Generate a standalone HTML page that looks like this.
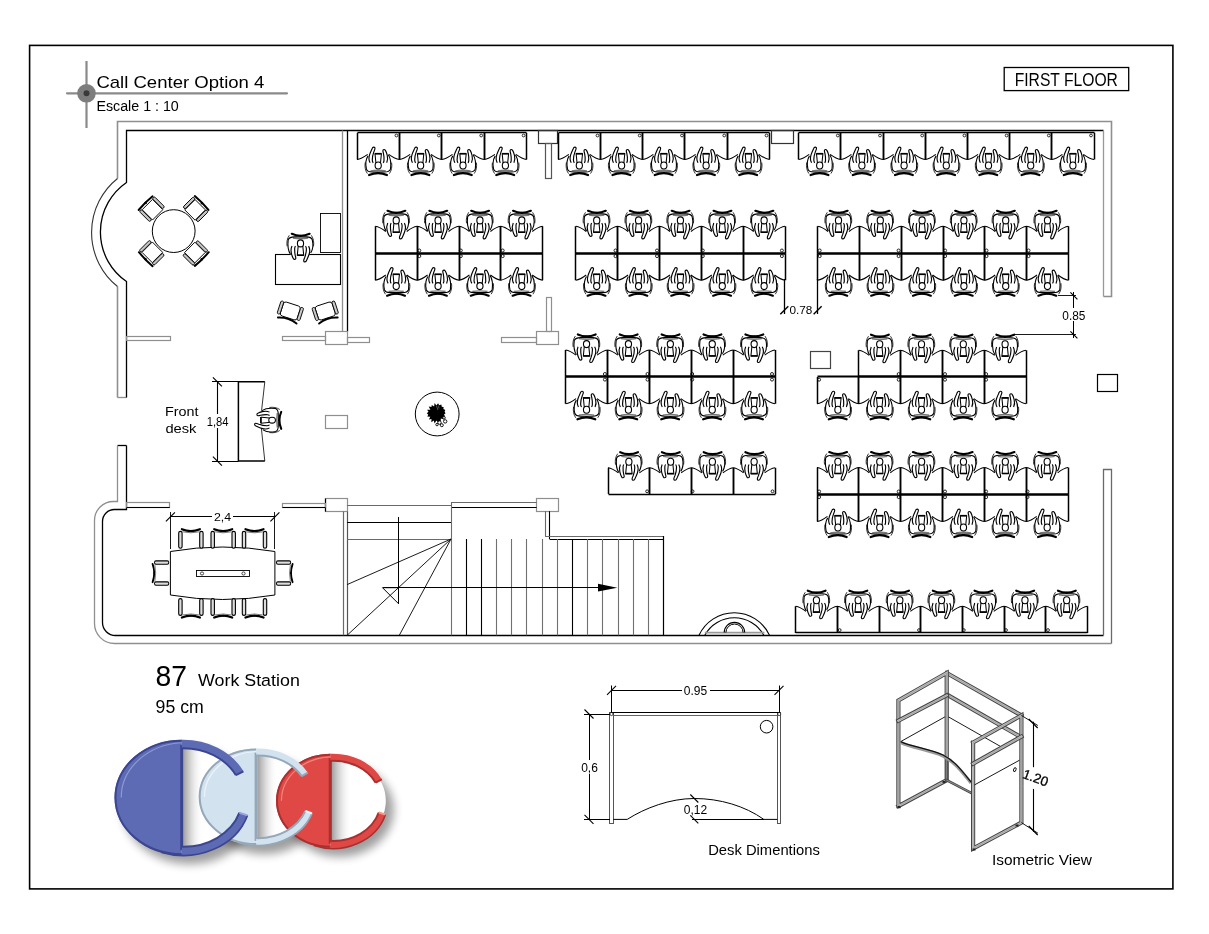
<!DOCTYPE html>
<html><head><meta charset="utf-8"><title>Call Center Option 4</title>
<style>
html,body{margin:0;padding:0;background:#fff;}
svg{display:block;will-change:transform;}
text{font-family:"Liberation Sans",sans-serif;}
</style></head><body>
<svg width="1209" height="934" viewBox="0 0 1209 934">

<defs>
<g id="ch" fill="none" stroke="#000" stroke-width="1.1">
  <path d="M-10.2,-3.7 C-12.6,0 -12.8,5 -11.8,10.5 L-9,14 L9,14 L12.3,10.5 C13,4 12.6,-1 10.1,-4.8 L6.6,-10 L4.5,-8 L-3,-10 L-4.6,-13 L-8,-6 Z" fill="#fff" stroke="none"/>
  <path d="M-9.1,15.5 Q0,11.6 8.7,15.5" stroke-width="2.2" stroke-linecap="round"/>
  <circle cx="0" cy="13.4" r="1.1" fill="#000" stroke="none"/>
  <path d="M-7.6,11.3 Q0,10 7.6,11.3" stroke="#777" stroke-width="1.3"/>
  <path d="M-10.2,-3.7 C-12.6,0 -12.8,5 -11.8,9.5 C-11,11.8 -9,12.4 -6,12.4 L6,12.4 C9,12.4 11.4,11.8 12.3,9.5 C13,4 12.6,-1 10.1,-4.8"/>
  <path d="M-13,3 C-13.6,7 -13,11 -10.8,14 M13.4,3 C14,7 13.4,11 11.2,14" stroke-width="0.8"/>
  <path d="M-3.2,-5.9 L3.2,-5.9 L2.3,3.2 L-2.3,3.2 Z" stroke-width="1.05"/>
  <path d="M-3.3,-5.9 L3.3,-5.9" stroke-width="1.6"/>
  <ellipse cx="0" cy="5.9" rx="3.1" ry="3.5" fill="#fff"/>
  <path d="M-8.1,3.2 C-9.4,1 -9.4,-2.5 -8.6,-5 C-7.9,-7.2 -6.8,-9.4 -6,-11.2 C-5.5,-12.8 -3.4,-13 -3.2,-11.5 C-3.1,-10.5 -3.8,-9.2 -4.3,-8 C-5.2,-5.6 -5.9,-2.6 -5.9,0.2 C-5.9,1.6 -5.5,2.6 -5,3.2" fill="#fff" stroke-width="1.15"/>
  <path d="M8.5,3.2 C9.6,1 9.6,-2.2 9,-4.5 C8.5,-6.5 7.8,-8.2 7.2,-9.2 C6.6,-10.4 4.8,-10.4 4.7,-9.1 C4.6,-8.2 4.9,-7.3 5.2,-6.4 C5.7,-4.2 5.9,-1.6 5.8,1 C5.7,2 5.4,2.7 5,3.2" fill="#fff" stroke-width="1.15"/>
</g>
<g id="lc" fill="none" stroke="#000">
  <rect x="-8.8" y="-7.3" width="17.6" height="14.6" rx="2.6" fill="#fff" stroke-width="0.9"/>
  <rect x="-11.9" y="-6.5" width="3" height="13.5" rx="1.4" fill="#ccc" stroke-width="0.85"/>
  <rect x="8.9" y="-6.5" width="3" height="13.5" rx="1.4" fill="#ccc" stroke-width="0.85"/>
  <path d="M-9.8,-10 Q0,-6.2 9.8,-10" stroke-width="1.9" stroke-linecap="round"/>
</g>
<g id="rc" fill="none" stroke="#000">
  <rect x="-7.3" y="-7.3" width="14.6" height="14.6" fill="#fff" stroke-width="0.9"/>
  <rect x="-10.6" y="-8" width="2.9" height="14.6" rx="1.4" fill="#c4c4c4" stroke-width="0.9"/>
  <rect x="7.7" y="-8" width="2.9" height="14.6" rx="1.4" fill="#c4c4c4" stroke-width="0.9"/>
  <path d="M-10,-9.6 Q0,-10.4 9.5,-9.4" stroke-width="2" stroke-linecap="round"/>
  <circle cx="0" cy="-9.6" r="1.3" fill="#000" stroke="none"/>
</g>
<g id="cc" fill="none" stroke="#000">
  <path d="M-9,-10.8 Q0,-7 9,-10.8" stroke-width="2.2" stroke-linecap="round"/>
  <circle cx="0" cy="-9" r="1" fill="#000" stroke="none"/>
  <path d="M-8.4,-8.2 Q0,-6.2 8.4,-8.2" stroke="#666" stroke-width="0.9"/>
  <rect x="-12.2" y="-8.6" width="3.4" height="16.8" rx="1.7" fill="#ddd" stroke-width="1.1"/>
  <rect x="8.8" y="-8.6" width="3.4" height="16.8" rx="1.7" fill="#ddd" stroke-width="1.1"/>
</g>
</defs>

<rect x="29.6" y="45.4" width="1143.3" height="843.5" fill="none" stroke="#000" stroke-width="1.6"/>
<line x1="86.5" y1="61" x2="86.5" y2="128" stroke="#8a8a8a" stroke-width="2.2"/>
<line x1="67" y1="93.3" x2="287" y2="93.3" stroke="#8a8a8a" stroke-width="2.2" stroke-linecap="round"/>
<circle cx="86.5" cy="93.3" r="9.3" fill="#7d7d7d"/>
<circle cx="86.5" cy="93.3" r="3" fill="#3a3a3a"/>
<text x="96.4" y="87.6" font-size="17" text-anchor="start" fill="#000" textLength="168" lengthAdjust="spacingAndGlyphs">Call Center Option 4</text>
<text x="96.4" y="110.6" font-size="13.8" text-anchor="start" fill="#000" textLength="82.4" lengthAdjust="spacingAndGlyphs">Escale 1 : 10</text>
<rect x="1004.2" y="67.5" width="124.5" height="23.1" fill="none" stroke="#000" stroke-width="1.3"/>
<text x="1014.7" y="85.9" font-size="17.5" text-anchor="start" fill="#000" textLength="103.2" lengthAdjust="spacingAndGlyphs">FIRST FLOOR</text>
<path d="M117.5,397.5 V286.5 M117.5,178.5 V121.5 H1111.5 V296.5 H1103.5" fill="none" stroke="#8f8f8f" stroke-width="1.6"/>
<path d="M117.5,286.5 A69.2,69.2 0 0 1 117.5,178.5" fill="none" stroke="#333" stroke-width="1.1"/>
<path d="M117.5,397.5 H126.5" fill="none" stroke="#8f8f8f" stroke-width="1.3"/>
<path d="M126.5,397.5 V281.5 A60,60 0 0 1 126.5,182.5 V130.5 H1103.5" fill="none" stroke="#000" stroke-width="1.3"/>
<path d="M1103.5,130.5 V296.5" fill="none" stroke="#999" stroke-width="1.3"/>
<path d="M117.5,445.5 H126.5" fill="none" stroke="#000" stroke-width="1.3"/>
<path d="M117.5,445.5 V501.5 H113.5 A19,19 0 0 0 94.5,520.5 V623.5 A20,20 0 0 0 114.5,643.5 H1111.5" fill="none" stroke="#8f8f8f" stroke-width="1.3"/>
<path d="M126.5,445.5 V509.5 H114.5 A12,12 0 0 0 102.5,521.5 V622.5 A13,13 0 0 0 115.5,635.5 H1103.5" fill="none" stroke="#000" stroke-width="1.3"/>
<path d="M1111.5,643.5 V469.5 H1103.5 V635.5" fill="none" stroke="#6a6a6a" stroke-width="1.3"/>
<path d="M342.5,130.5 V331.5" fill="none" stroke="#8f8f8f" stroke-width="1.3"/>
<path d="M347.5,130.5 V331.5" fill="none" stroke="#000" stroke-width="1.3"/>
<rect x="325.5" y="331.5" width="22" height="13" fill="none" stroke="#8f8f8f" stroke-width="1.2"/>
<rect x="536.5" y="331.5" width="22" height="13" fill="none" stroke="#8f8f8f" stroke-width="1.2"/>
<rect x="325.5" y="498.5" width="22" height="13" fill="none" stroke="#8f8f8f" stroke-width="1.2"/>
<line x1="325.5" y1="498.6" x2="325.5" y2="511.6" stroke="#000" stroke-width="1.2"/>
<rect x="536.5" y="498.5" width="22" height="13" fill="none" stroke="#8f8f8f" stroke-width="1.2"/>
<rect x="126.5" y="336.5" width="44" height="4" fill="none" stroke="#8f8f8f" stroke-width="1.2"/>
<rect x="282.5" y="336.5" width="43" height="4" fill="none" stroke="#8f8f8f" stroke-width="1.2"/>
<rect x="347.5" y="337.5" width="22" height="5" fill="none" stroke="#8f8f8f" stroke-width="1.2"/>
<rect x="501.5" y="337.5" width="35" height="5" fill="none" stroke="#8f8f8f" stroke-width="1.2"/>
<rect x="546.5" y="297.5" width="5" height="34" fill="none" stroke="#8f8f8f" stroke-width="1.2"/>
<rect x="126.5" y="502.5" width="43" height="5" fill="none" stroke="#8f8f8f" stroke-width="1.2"/>
<line x1="126.5" y1="507.5" x2="169.7" y2="507.5" stroke="#000" stroke-width="1.2"/>
<rect x="282.5" y="503.5" width="43" height="4" fill="none" stroke="#8f8f8f" stroke-width="1.2"/>
<line x1="282.5" y1="507.5" x2="325.6" y2="507.5" stroke="#000" stroke-width="1.2"/>
<rect x="538.5" y="130.5" width="19" height="13" fill="none" stroke="#333" stroke-width="1.2"/>
<rect x="545.5" y="143.5" width="6" height="35" fill="none" stroke="#555" stroke-width="1.2"/>
<rect x="771.5" y="130.5" width="22" height="13" fill="none" stroke="#333" stroke-width="1.2"/>
<rect x="810.5" y="351.5" width="20" height="17" fill="none" stroke="#444" stroke-width="1.2"/>
<rect x="1097.5" y="374.5" width="20" height="17" fill="none" stroke="#000" stroke-width="1.2"/>
<path d="M357,159.6 C361,159 364,157 367.7,154.4 M399.4,159.6 C395.4,159 392.4,157 388.7,154.4" fill="none" stroke="#000" stroke-width="1.05"/>
<path d="M357.5,159.6 V132.7 M399.5,159.6 V132.7" fill="none" stroke="#000" stroke-width="1.5"/>
<use href="#ch" transform="translate(378.2,159.6)"/>
<circle cx="396.4" cy="135.5" r="1.4" fill="none" stroke="#000" stroke-width="0.8"/>
<path d="M399.4,159.6 C403.4,159 406.4,157 410.1,154.4 M441.8,159.6 C437.8,159 434.8,157 431.1,154.4" fill="none" stroke="#000" stroke-width="1.05"/>
<path d="M399.5,159.6 V132.7 M441.5,159.6 V132.7" fill="none" stroke="#000" stroke-width="1.5"/>
<use href="#ch" transform="translate(420.6,159.6)"/>
<circle cx="438.8" cy="135.5" r="1.4" fill="none" stroke="#000" stroke-width="0.8"/>
<path d="M441.8,159.6 C445.8,159 448.8,157 452.5,154.4 M484.2,159.6 C480.2,159 477.2,157 473.5,154.4" fill="none" stroke="#000" stroke-width="1.05"/>
<path d="M441.5,159.6 V132.7 M484.5,159.6 V132.7" fill="none" stroke="#000" stroke-width="1.5"/>
<use href="#ch" transform="translate(463,159.6)"/>
<circle cx="481.2" cy="135.5" r="1.4" fill="none" stroke="#000" stroke-width="0.8"/>
<path d="M484.2,159.6 C488.2,159 491.2,157 494.9,154.4 M526.6,159.6 C522.6,159 519.6,157 515.9,154.4" fill="none" stroke="#000" stroke-width="1.05"/>
<path d="M484.5,159.6 V132.7 M526.5,159.6 V132.7" fill="none" stroke="#000" stroke-width="1.5"/>
<use href="#ch" transform="translate(505.4,159.6)"/>
<circle cx="523.6" cy="135.5" r="1.4" fill="none" stroke="#000" stroke-width="0.8"/>
<path d="M357.5,132.5 H526.5" fill="none" stroke="#000" stroke-width="1.5"/>
<path d="M558.2,159.6 C562.2,159 565.2,157 568.83,154.4 M600.46,159.6 C596.46,159 593.46,157 589.83,154.4" fill="none" stroke="#000" stroke-width="1.05"/>
<path d="M558.5,159.6 V132.7 M600.5,159.6 V132.7" fill="none" stroke="#000" stroke-width="1.5"/>
<use href="#ch" transform="translate(579.33,159.6)"/>
<circle cx="597.46" cy="135.5" r="1.4" fill="none" stroke="#000" stroke-width="0.8"/>
<path d="M600.46,159.6 C604.46,159 607.46,157 611.09,154.4 M642.72,159.6 C638.72,159 635.72,157 632.09,154.4" fill="none" stroke="#000" stroke-width="1.05"/>
<path d="M600.5,159.6 V132.7 M642.5,159.6 V132.7" fill="none" stroke="#000" stroke-width="1.5"/>
<use href="#ch" transform="translate(621.59,159.6)"/>
<circle cx="639.72" cy="135.5" r="1.4" fill="none" stroke="#000" stroke-width="0.8"/>
<path d="M642.72,159.6 C646.72,159 649.72,157 653.35,154.4 M684.98,159.6 C680.98,159 677.98,157 674.35,154.4" fill="none" stroke="#000" stroke-width="1.05"/>
<path d="M642.5,159.6 V132.7 M684.5,159.6 V132.7" fill="none" stroke="#000" stroke-width="1.5"/>
<use href="#ch" transform="translate(663.85,159.6)"/>
<circle cx="681.98" cy="135.5" r="1.4" fill="none" stroke="#000" stroke-width="0.8"/>
<path d="M684.98,159.6 C688.98,159 691.98,157 695.61,154.4 M727.24,159.6 C723.24,159 720.24,157 716.61,154.4" fill="none" stroke="#000" stroke-width="1.05"/>
<path d="M684.5,159.6 V132.7 M727.5,159.6 V132.7" fill="none" stroke="#000" stroke-width="1.5"/>
<use href="#ch" transform="translate(706.11,159.6)"/>
<circle cx="724.24" cy="135.5" r="1.4" fill="none" stroke="#000" stroke-width="0.8"/>
<path d="M727.24,159.6 C731.24,159 734.24,157 737.87,154.4 M769.5,159.6 C765.5,159 762.5,157 758.87,154.4" fill="none" stroke="#000" stroke-width="1.05"/>
<path d="M727.5,159.6 V132.7 M769.5,159.6 V132.7" fill="none" stroke="#000" stroke-width="1.5"/>
<use href="#ch" transform="translate(748.37,159.6)"/>
<circle cx="766.5" cy="135.5" r="1.4" fill="none" stroke="#000" stroke-width="0.8"/>
<path d="M558.5,132.5 H769.5" fill="none" stroke="#000" stroke-width="1.5"/>
<path d="M798.6,159.6 C802.6,159 805.6,157 809.2,154.4 M840.8,159.6 C836.8,159 833.8,157 830.2,154.4" fill="none" stroke="#000" stroke-width="1.05"/>
<path d="M798.5,159.6 V132.7 M840.5,159.6 V132.7" fill="none" stroke="#000" stroke-width="1.5"/>
<use href="#ch" transform="translate(819.7,159.6)"/>
<circle cx="837.8" cy="135.5" r="1.4" fill="none" stroke="#000" stroke-width="0.8"/>
<path d="M840.8,159.6 C844.8,159 847.8,157 851.4,154.4 M883,159.6 C879,159 876,157 872.4,154.4" fill="none" stroke="#000" stroke-width="1.05"/>
<path d="M840.5,159.6 V132.7 M883.5,159.6 V132.7" fill="none" stroke="#000" stroke-width="1.5"/>
<use href="#ch" transform="translate(861.9,159.6)"/>
<circle cx="880" cy="135.5" r="1.4" fill="none" stroke="#000" stroke-width="0.8"/>
<path d="M883,159.6 C887,159 890,157 893.6,154.4 M925.2,159.6 C921.2,159 918.2,157 914.6,154.4" fill="none" stroke="#000" stroke-width="1.05"/>
<path d="M883.5,159.6 V132.7 M925.5,159.6 V132.7" fill="none" stroke="#000" stroke-width="1.5"/>
<use href="#ch" transform="translate(904.1,159.6)"/>
<circle cx="922.2" cy="135.5" r="1.4" fill="none" stroke="#000" stroke-width="0.8"/>
<path d="M925.2,159.6 C929.2,159 932.2,157 935.8,154.4 M967.4,159.6 C963.4,159 960.4,157 956.8,154.4" fill="none" stroke="#000" stroke-width="1.05"/>
<path d="M925.5,159.6 V132.7 M967.5,159.6 V132.7" fill="none" stroke="#000" stroke-width="1.5"/>
<use href="#ch" transform="translate(946.3,159.6)"/>
<circle cx="964.4" cy="135.5" r="1.4" fill="none" stroke="#000" stroke-width="0.8"/>
<path d="M967.4,159.6 C971.4,159 974.4,157 978,154.4 M1009.6,159.6 C1005.6,159 1002.6,157 999,154.4" fill="none" stroke="#000" stroke-width="1.05"/>
<path d="M967.5,159.6 V132.7 M1009.5,159.6 V132.7" fill="none" stroke="#000" stroke-width="1.5"/>
<use href="#ch" transform="translate(988.5,159.6)"/>
<circle cx="1006.6" cy="135.5" r="1.4" fill="none" stroke="#000" stroke-width="0.8"/>
<path d="M1009.6,159.6 C1013.6,159 1016.6,157 1020.2,154.4 M1051.8,159.6 C1047.8,159 1044.8,157 1041.2,154.4" fill="none" stroke="#000" stroke-width="1.05"/>
<path d="M1009.5,159.6 V132.7 M1051.5,159.6 V132.7" fill="none" stroke="#000" stroke-width="1.5"/>
<use href="#ch" transform="translate(1030.7,159.6)"/>
<circle cx="1048.8" cy="135.5" r="1.4" fill="none" stroke="#000" stroke-width="0.8"/>
<path d="M1051.8,159.6 C1055.8,159 1058.8,157 1062.4,154.4 M1094,159.6 C1090,159 1087,157 1083.4,154.4" fill="none" stroke="#000" stroke-width="1.05"/>
<path d="M1051.5,159.6 V132.7 M1094.5,159.6 V132.7" fill="none" stroke="#000" stroke-width="1.5"/>
<use href="#ch" transform="translate(1072.9,159.6)"/>
<circle cx="1091" cy="135.5" r="1.4" fill="none" stroke="#000" stroke-width="0.8"/>
<path d="M798.5,132.5 H1094.5" fill="none" stroke="#000" stroke-width="1.5"/>
<path d="M375.3,226.3 C379.3,226.9 382.3,228.9 385.73,231.5 M417.15,226.3 C413.15,226.9 410.15,228.9 406.73,231.5" fill="none" stroke="#000" stroke-width="1.05"/>
<path d="M375.5,226.3 V253.3 M417.5,226.3 V253.3" fill="none" stroke="#000" stroke-width="1.5"/>
<use href="#ch" transform="translate(396.23,226.3) rotate(180)"/>
<path d="M417.15,226.3 C421.15,226.9 424.15,228.9 427.58,231.5 M459,226.3 C455,226.9 452,228.9 448.58,231.5" fill="none" stroke="#000" stroke-width="1.05"/>
<path d="M417.5,226.3 V253.3 M459.5,226.3 V253.3" fill="none" stroke="#000" stroke-width="1.5"/>
<use href="#ch" transform="translate(438.08,226.3) rotate(180)"/>
<path d="M459,226.3 C463,226.9 466,228.9 469.43,231.5 M500.85,226.3 C496.85,226.9 493.85,228.9 490.43,231.5" fill="none" stroke="#000" stroke-width="1.05"/>
<path d="M459.5,226.3 V253.3 M500.5,226.3 V253.3" fill="none" stroke="#000" stroke-width="1.5"/>
<use href="#ch" transform="translate(479.93,226.3) rotate(180)"/>
<path d="M500.85,226.3 C504.85,226.9 507.85,228.9 511.27,231.5 M542.7,226.3 C538.7,226.9 535.7,228.9 532.27,231.5" fill="none" stroke="#000" stroke-width="1.05"/>
<path d="M500.5,226.3 V253.3 M542.5,226.3 V253.3" fill="none" stroke="#000" stroke-width="1.5"/>
<use href="#ch" transform="translate(521.77,226.3) rotate(180)"/>
<circle cx="419.3" cy="250.5" r="1.5" fill="none" stroke="#000" stroke-width="0.85"/>
<circle cx="460.8" cy="250.5" r="1.5" fill="none" stroke="#000" stroke-width="0.85"/>
<circle cx="502.7" cy="250.5" r="1.5" fill="none" stroke="#000" stroke-width="0.85"/>
<path d="M375.5,253.5 H542.5" fill="none" stroke="#000" stroke-width="1.8"/>
<path d="M375.3,280.2 C379.3,279.6 382.3,277.6 385.73,275 M417.15,280.2 C413.15,279.6 410.15,277.6 406.73,275" fill="none" stroke="#000" stroke-width="1.05"/>
<path d="M375.5,280.2 V253.3 M417.5,280.2 V253.3" fill="none" stroke="#000" stroke-width="1.5"/>
<use href="#ch" transform="translate(396.23,280.2)"/>
<path d="M417.15,280.2 C421.15,279.6 424.15,277.6 427.58,275 M459,280.2 C455,279.6 452,277.6 448.58,275" fill="none" stroke="#000" stroke-width="1.05"/>
<path d="M417.5,280.2 V253.3 M459.5,280.2 V253.3" fill="none" stroke="#000" stroke-width="1.5"/>
<use href="#ch" transform="translate(438.08,280.2)"/>
<path d="M459,280.2 C463,279.6 466,277.6 469.43,275 M500.85,280.2 C496.85,279.6 493.85,277.6 490.43,275" fill="none" stroke="#000" stroke-width="1.05"/>
<path d="M459.5,280.2 V253.3 M500.5,280.2 V253.3" fill="none" stroke="#000" stroke-width="1.5"/>
<use href="#ch" transform="translate(479.93,280.2)"/>
<path d="M500.85,280.2 C504.85,279.6 507.85,277.6 511.27,275 M542.7,280.2 C538.7,279.6 535.7,277.6 532.27,275" fill="none" stroke="#000" stroke-width="1.05"/>
<path d="M500.5,280.2 V253.3 M542.5,280.2 V253.3" fill="none" stroke="#000" stroke-width="1.5"/>
<use href="#ch" transform="translate(521.77,280.2)"/>
<circle cx="419.3" cy="256.1" r="1.5" fill="none" stroke="#000" stroke-width="0.85"/>
<circle cx="460.8" cy="256.1" r="1.5" fill="none" stroke="#000" stroke-width="0.85"/>
<circle cx="502.7" cy="256.1" r="1.5" fill="none" stroke="#000" stroke-width="0.85"/>
<path d="M375.5,253.5 H542.5" fill="none" stroke="#000" stroke-width="1.8"/>
<path d="M575.8,226.3 C579.8,226.9 582.8,228.9 586.22,231.5 M617.65,226.3 C613.65,226.9 610.65,228.9 607.22,231.5" fill="none" stroke="#000" stroke-width="1.05"/>
<path d="M575.5,226.3 V253.3 M617.5,226.3 V253.3" fill="none" stroke="#000" stroke-width="1.5"/>
<use href="#ch" transform="translate(596.72,226.3) rotate(180)"/>
<path d="M617.65,226.3 C621.65,226.9 624.65,228.9 628.07,231.5 M659.5,226.3 C655.5,226.9 652.5,228.9 649.07,231.5" fill="none" stroke="#000" stroke-width="1.05"/>
<path d="M617.5,226.3 V253.3 M659.5,226.3 V253.3" fill="none" stroke="#000" stroke-width="1.5"/>
<use href="#ch" transform="translate(638.57,226.3) rotate(180)"/>
<path d="M659.5,226.3 C663.5,226.9 666.5,228.9 669.92,231.5 M701.35,226.3 C697.35,226.9 694.35,228.9 690.92,231.5" fill="none" stroke="#000" stroke-width="1.05"/>
<path d="M659.5,226.3 V253.3 M701.5,226.3 V253.3" fill="none" stroke="#000" stroke-width="1.5"/>
<use href="#ch" transform="translate(680.42,226.3) rotate(180)"/>
<path d="M701.35,226.3 C705.35,226.9 708.35,228.9 711.77,231.5 M743.2,226.3 C739.2,226.9 736.2,228.9 732.77,231.5" fill="none" stroke="#000" stroke-width="1.05"/>
<path d="M701.5,226.3 V253.3 M743.5,226.3 V253.3" fill="none" stroke="#000" stroke-width="1.5"/>
<use href="#ch" transform="translate(722.27,226.3) rotate(180)"/>
<path d="M743.2,226.3 C747.2,226.9 750.2,228.9 753.62,231.5 M785.05,226.3 C781.05,226.9 778.05,228.9 774.62,231.5" fill="none" stroke="#000" stroke-width="1.05"/>
<path d="M743.5,226.3 V253.3 M785.5,226.3 V253.3" fill="none" stroke="#000" stroke-width="1.5"/>
<use href="#ch" transform="translate(764.12,226.3) rotate(180)"/>
<circle cx="615.5" cy="250.5" r="1.5" fill="none" stroke="#000" stroke-width="0.85"/>
<circle cx="657" cy="250.5" r="1.5" fill="none" stroke="#000" stroke-width="0.85"/>
<circle cx="702.8" cy="250.5" r="1.5" fill="none" stroke="#000" stroke-width="0.85"/>
<circle cx="781.9" cy="250.5" r="1.5" fill="none" stroke="#000" stroke-width="0.85"/>
<path d="M575.5,253.5 H785.5" fill="none" stroke="#000" stroke-width="1.8"/>
<path d="M575.8,280.2 C579.8,279.6 582.8,277.6 586.22,275 M617.65,280.2 C613.65,279.6 610.65,277.6 607.22,275" fill="none" stroke="#000" stroke-width="1.05"/>
<path d="M575.5,280.2 V253.3 M617.5,280.2 V253.3" fill="none" stroke="#000" stroke-width="1.5"/>
<use href="#ch" transform="translate(596.72,280.2)"/>
<path d="M617.65,280.2 C621.65,279.6 624.65,277.6 628.07,275 M659.5,280.2 C655.5,279.6 652.5,277.6 649.07,275" fill="none" stroke="#000" stroke-width="1.05"/>
<path d="M617.5,280.2 V253.3 M659.5,280.2 V253.3" fill="none" stroke="#000" stroke-width="1.5"/>
<use href="#ch" transform="translate(638.57,280.2)"/>
<path d="M659.5,280.2 C663.5,279.6 666.5,277.6 669.92,275 M701.35,280.2 C697.35,279.6 694.35,277.6 690.92,275" fill="none" stroke="#000" stroke-width="1.05"/>
<path d="M659.5,280.2 V253.3 M701.5,280.2 V253.3" fill="none" stroke="#000" stroke-width="1.5"/>
<use href="#ch" transform="translate(680.42,280.2)"/>
<path d="M701.35,280.2 C705.35,279.6 708.35,277.6 711.77,275 M743.2,280.2 C739.2,279.6 736.2,277.6 732.77,275" fill="none" stroke="#000" stroke-width="1.05"/>
<path d="M701.5,280.2 V253.3 M743.5,280.2 V253.3" fill="none" stroke="#000" stroke-width="1.5"/>
<use href="#ch" transform="translate(722.27,280.2)"/>
<path d="M743.2,280.2 C747.2,279.6 750.2,277.6 753.62,275 M785.05,280.2 C781.05,279.6 778.05,277.6 774.62,275" fill="none" stroke="#000" stroke-width="1.05"/>
<path d="M743.5,280.2 V253.3 M785.5,280.2 V253.3" fill="none" stroke="#000" stroke-width="1.5"/>
<use href="#ch" transform="translate(764.12,280.2)"/>
<circle cx="615.5" cy="256.1" r="1.5" fill="none" stroke="#000" stroke-width="0.85"/>
<circle cx="657" cy="256.1" r="1.5" fill="none" stroke="#000" stroke-width="0.85"/>
<circle cx="702.8" cy="256.1" r="1.5" fill="none" stroke="#000" stroke-width="0.85"/>
<circle cx="781.9" cy="256.1" r="1.5" fill="none" stroke="#000" stroke-width="0.85"/>
<path d="M575.5,253.5 H785.5" fill="none" stroke="#000" stroke-width="1.8"/>
<path d="M817.6,226.3 C821.6,226.9 824.6,228.9 828,231.5 M859.4,226.3 C855.4,226.9 852.4,228.9 849,231.5" fill="none" stroke="#000" stroke-width="1.05"/>
<path d="M817.5,226.3 V253.3 M859.5,226.3 V253.3" fill="none" stroke="#000" stroke-width="1.5"/>
<use href="#ch" transform="translate(838.5,226.3) rotate(180)"/>
<path d="M859.4,226.3 C863.4,226.9 866.4,228.9 869.8,231.5 M901.2,226.3 C897.2,226.9 894.2,228.9 890.8,231.5" fill="none" stroke="#000" stroke-width="1.05"/>
<path d="M859.5,226.3 V253.3 M901.5,226.3 V253.3" fill="none" stroke="#000" stroke-width="1.5"/>
<use href="#ch" transform="translate(880.3,226.3) rotate(180)"/>
<path d="M901.2,226.3 C905.2,226.9 908.2,228.9 911.6,231.5 M943,226.3 C939,226.9 936,228.9 932.6,231.5" fill="none" stroke="#000" stroke-width="1.05"/>
<path d="M901.5,226.3 V253.3 M943.5,226.3 V253.3" fill="none" stroke="#000" stroke-width="1.5"/>
<use href="#ch" transform="translate(922.1,226.3) rotate(180)"/>
<path d="M943,226.3 C947,226.9 950,228.9 953.4,231.5 M984.8,226.3 C980.8,226.9 977.8,228.9 974.4,231.5" fill="none" stroke="#000" stroke-width="1.05"/>
<path d="M943.5,226.3 V253.3 M984.5,226.3 V253.3" fill="none" stroke="#000" stroke-width="1.5"/>
<use href="#ch" transform="translate(963.9,226.3) rotate(180)"/>
<path d="M984.8,226.3 C988.8,226.9 991.8,228.9 995.2,231.5 M1026.6,226.3 C1022.6,226.9 1019.6,228.9 1016.2,231.5" fill="none" stroke="#000" stroke-width="1.05"/>
<path d="M984.5,226.3 V253.3 M1026.5,226.3 V253.3" fill="none" stroke="#000" stroke-width="1.5"/>
<use href="#ch" transform="translate(1005.7,226.3) rotate(180)"/>
<path d="M1026.6,226.3 C1030.6,226.9 1033.6,228.9 1037,231.5 M1068.4,226.3 C1064.4,226.9 1061.4,228.9 1058,231.5" fill="none" stroke="#000" stroke-width="1.05"/>
<path d="M1026.5,226.3 V253.3 M1068.5,226.3 V253.3" fill="none" stroke="#000" stroke-width="1.5"/>
<use href="#ch" transform="translate(1047.5,226.3) rotate(180)"/>
<circle cx="819.7" cy="250.5" r="1.5" fill="none" stroke="#000" stroke-width="0.85"/>
<circle cx="898.6" cy="250.5" r="1.5" fill="none" stroke="#000" stroke-width="0.85"/>
<circle cx="945.1" cy="250.5" r="1.5" fill="none" stroke="#000" stroke-width="0.85"/>
<circle cx="986.5" cy="250.5" r="1.5" fill="none" stroke="#000" stroke-width="0.85"/>
<circle cx="1028.5" cy="250.5" r="1.5" fill="none" stroke="#000" stroke-width="0.85"/>
<path d="M817.5,253.5 H1068.5" fill="none" stroke="#000" stroke-width="1.8"/>
<path d="M817.6,280.2 C821.6,279.6 824.6,277.6 828,275 M859.4,280.2 C855.4,279.6 852.4,277.6 849,275" fill="none" stroke="#000" stroke-width="1.05"/>
<path d="M817.5,280.2 V253.3 M859.5,280.2 V253.3" fill="none" stroke="#000" stroke-width="1.5"/>
<use href="#ch" transform="translate(838.5,280.2)"/>
<path d="M859.4,280.2 C863.4,279.6 866.4,277.6 869.8,275 M901.2,280.2 C897.2,279.6 894.2,277.6 890.8,275" fill="none" stroke="#000" stroke-width="1.05"/>
<path d="M859.5,280.2 V253.3 M901.5,280.2 V253.3" fill="none" stroke="#000" stroke-width="1.5"/>
<use href="#ch" transform="translate(880.3,280.2)"/>
<path d="M901.2,280.2 C905.2,279.6 908.2,277.6 911.6,275 M943,280.2 C939,279.6 936,277.6 932.6,275" fill="none" stroke="#000" stroke-width="1.05"/>
<path d="M901.5,280.2 V253.3 M943.5,280.2 V253.3" fill="none" stroke="#000" stroke-width="1.5"/>
<use href="#ch" transform="translate(922.1,280.2)"/>
<path d="M943,280.2 C947,279.6 950,277.6 953.4,275 M984.8,280.2 C980.8,279.6 977.8,277.6 974.4,275" fill="none" stroke="#000" stroke-width="1.05"/>
<path d="M943.5,280.2 V253.3 M984.5,280.2 V253.3" fill="none" stroke="#000" stroke-width="1.5"/>
<use href="#ch" transform="translate(963.9,280.2)"/>
<path d="M984.8,280.2 C988.8,279.6 991.8,277.6 995.2,275 M1026.6,280.2 C1022.6,279.6 1019.6,277.6 1016.2,275" fill="none" stroke="#000" stroke-width="1.05"/>
<path d="M984.5,280.2 V253.3 M1026.5,280.2 V253.3" fill="none" stroke="#000" stroke-width="1.5"/>
<use href="#ch" transform="translate(1005.7,280.2)"/>
<path d="M1026.6,280.2 C1030.6,279.6 1033.6,277.6 1037,275 M1068.4,280.2 C1064.4,279.6 1061.4,277.6 1058,275" fill="none" stroke="#000" stroke-width="1.05"/>
<path d="M1026.5,280.2 V253.3 M1068.5,280.2 V253.3" fill="none" stroke="#000" stroke-width="1.5"/>
<use href="#ch" transform="translate(1047.5,280.2)"/>
<circle cx="819.7" cy="256.1" r="1.5" fill="none" stroke="#000" stroke-width="0.85"/>
<circle cx="898.6" cy="256.1" r="1.5" fill="none" stroke="#000" stroke-width="0.85"/>
<circle cx="945.1" cy="256.1" r="1.5" fill="none" stroke="#000" stroke-width="0.85"/>
<circle cx="986.5" cy="256.1" r="1.5" fill="none" stroke="#000" stroke-width="0.85"/>
<circle cx="1028.5" cy="256.1" r="1.5" fill="none" stroke="#000" stroke-width="0.85"/>
<path d="M817.5,253.5 H1068.5" fill="none" stroke="#000" stroke-width="1.8"/>
<path d="M565.6,350 C569.6,350.6 572.6,352.6 576.05,355.2 M607.5,350 C603.5,350.6 600.5,352.6 597.05,355.2" fill="none" stroke="#000" stroke-width="1.05"/>
<path d="M565.5,350 V376.8 M607.5,350 V376.8" fill="none" stroke="#000" stroke-width="1.5"/>
<use href="#ch" transform="translate(586.55,350) rotate(180)"/>
<path d="M607.5,350 C611.5,350.6 614.5,352.6 617.95,355.2 M649.4,350 C645.4,350.6 642.4,352.6 638.95,355.2" fill="none" stroke="#000" stroke-width="1.05"/>
<path d="M607.5,350 V376.8 M649.5,350 V376.8" fill="none" stroke="#000" stroke-width="1.5"/>
<use href="#ch" transform="translate(628.45,350) rotate(180)"/>
<path d="M649.4,350 C653.4,350.6 656.4,352.6 659.85,355.2 M691.3,350 C687.3,350.6 684.3,352.6 680.85,355.2" fill="none" stroke="#000" stroke-width="1.05"/>
<path d="M649.5,350 V376.8 M691.5,350 V376.8" fill="none" stroke="#000" stroke-width="1.5"/>
<use href="#ch" transform="translate(670.35,350) rotate(180)"/>
<path d="M691.3,350 C695.3,350.6 698.3,352.6 701.75,355.2 M733.2,350 C729.2,350.6 726.2,352.6 722.75,355.2" fill="none" stroke="#000" stroke-width="1.05"/>
<path d="M691.5,350 V376.8 M733.5,350 V376.8" fill="none" stroke="#000" stroke-width="1.5"/>
<use href="#ch" transform="translate(712.25,350) rotate(180)"/>
<path d="M733.2,350 C737.2,350.6 740.2,352.6 743.65,355.2 M775.1,350 C771.1,350.6 768.1,352.6 764.65,355.2" fill="none" stroke="#000" stroke-width="1.05"/>
<path d="M733.5,350 V376.8 M775.5,350 V376.8" fill="none" stroke="#000" stroke-width="1.5"/>
<use href="#ch" transform="translate(754.15,350) rotate(180)"/>
<circle cx="604.9" cy="374" r="1.5" fill="none" stroke="#000" stroke-width="0.85"/>
<circle cx="647.5" cy="374" r="1.5" fill="none" stroke="#000" stroke-width="0.85"/>
<circle cx="692.2" cy="374" r="1.5" fill="none" stroke="#000" stroke-width="0.85"/>
<circle cx="772" cy="374" r="1.5" fill="none" stroke="#000" stroke-width="0.85"/>
<path d="M565.5,376.5 H775.5" fill="none" stroke="#000" stroke-width="1.8"/>
<path d="M565.6,403.8 C569.6,403.2 572.6,401.2 576.05,398.6 M607.5,403.8 C603.5,403.2 600.5,401.2 597.05,398.6" fill="none" stroke="#000" stroke-width="1.05"/>
<path d="M565.5,403.8 V376.8 M607.5,403.8 V376.8" fill="none" stroke="#000" stroke-width="1.5"/>
<use href="#ch" transform="translate(586.55,403.8)"/>
<path d="M607.5,403.8 C611.5,403.2 614.5,401.2 617.95,398.6 M649.4,403.8 C645.4,403.2 642.4,401.2 638.95,398.6" fill="none" stroke="#000" stroke-width="1.05"/>
<path d="M607.5,403.8 V376.8 M649.5,403.8 V376.8" fill="none" stroke="#000" stroke-width="1.5"/>
<use href="#ch" transform="translate(628.45,403.8)"/>
<path d="M649.4,403.8 C653.4,403.2 656.4,401.2 659.85,398.6 M691.3,403.8 C687.3,403.2 684.3,401.2 680.85,398.6" fill="none" stroke="#000" stroke-width="1.05"/>
<path d="M649.5,403.8 V376.8 M691.5,403.8 V376.8" fill="none" stroke="#000" stroke-width="1.5"/>
<use href="#ch" transform="translate(670.35,403.8)"/>
<path d="M691.3,403.8 C695.3,403.2 698.3,401.2 701.75,398.6 M733.2,403.8 C729.2,403.2 726.2,401.2 722.75,398.6" fill="none" stroke="#000" stroke-width="1.05"/>
<path d="M691.5,403.8 V376.8 M733.5,403.8 V376.8" fill="none" stroke="#000" stroke-width="1.5"/>
<use href="#ch" transform="translate(712.25,403.8)"/>
<path d="M733.2,403.8 C737.2,403.2 740.2,401.2 743.65,398.6 M775.1,403.8 C771.1,403.2 768.1,401.2 764.65,398.6" fill="none" stroke="#000" stroke-width="1.05"/>
<path d="M733.5,403.8 V376.8 M775.5,403.8 V376.8" fill="none" stroke="#000" stroke-width="1.5"/>
<use href="#ch" transform="translate(754.15,403.8)"/>
<circle cx="604.9" cy="379.6" r="1.5" fill="none" stroke="#000" stroke-width="0.85"/>
<circle cx="647.5" cy="379.6" r="1.5" fill="none" stroke="#000" stroke-width="0.85"/>
<circle cx="692.2" cy="379.6" r="1.5" fill="none" stroke="#000" stroke-width="0.85"/>
<circle cx="772" cy="379.6" r="1.5" fill="none" stroke="#000" stroke-width="0.85"/>
<path d="M565.5,376.5 H775.5" fill="none" stroke="#000" stroke-width="1.8"/>
<path d="M858.8,350.2 C862.8,350.8 865.8,352.8 869.2,355.4 M900.6,350.2 C896.6,350.8 893.6,352.8 890.2,355.4" fill="none" stroke="#000" stroke-width="1.05"/>
<path d="M858.5,350.2 V376.9 M900.5,350.2 V376.9" fill="none" stroke="#000" stroke-width="1.5"/>
<use href="#ch" transform="translate(879.7,350.2) rotate(180)"/>
<path d="M900.6,350.2 C904.6,350.8 907.6,352.8 911,355.4 M942.4,350.2 C938.4,350.8 935.4,352.8 932,355.4" fill="none" stroke="#000" stroke-width="1.05"/>
<path d="M900.5,350.2 V376.9 M942.5,350.2 V376.9" fill="none" stroke="#000" stroke-width="1.5"/>
<use href="#ch" transform="translate(921.5,350.2) rotate(180)"/>
<path d="M942.4,350.2 C946.4,350.8 949.4,352.8 952.8,355.4 M984.2,350.2 C980.2,350.8 977.2,352.8 973.8,355.4" fill="none" stroke="#000" stroke-width="1.05"/>
<path d="M942.5,350.2 V376.9 M984.5,350.2 V376.9" fill="none" stroke="#000" stroke-width="1.5"/>
<use href="#ch" transform="translate(963.3,350.2) rotate(180)"/>
<path d="M984.2,350.2 C988.2,350.8 991.2,352.8 994.6,355.4 M1026,350.2 C1022,350.8 1019,352.8 1015.6,355.4" fill="none" stroke="#000" stroke-width="1.05"/>
<path d="M984.5,350.2 V376.9 M1026.5,350.2 V376.9" fill="none" stroke="#000" stroke-width="1.5"/>
<use href="#ch" transform="translate(1005.1,350.2) rotate(180)"/>
<circle cx="898.7" cy="374.1" r="1.5" fill="none" stroke="#000" stroke-width="0.85"/>
<circle cx="945" cy="374.1" r="1.5" fill="none" stroke="#000" stroke-width="0.85"/>
<circle cx="986.1" cy="374.1" r="1.5" fill="none" stroke="#000" stroke-width="0.85"/>
<path d="M858.5,376.5 H1026.5" fill="none" stroke="#000" stroke-width="1.8"/>
<path d="M817,403.8 C821,403.2 824,401.2 827.4,398.6 M858.8,403.8 C854.8,403.2 851.8,401.2 848.4,398.6" fill="none" stroke="#000" stroke-width="1.05"/>
<path d="M817.5,403.8 V376.9 M858.5,403.8 V376.9" fill="none" stroke="#000" stroke-width="1.5"/>
<use href="#ch" transform="translate(837.9,403.8)"/>
<path d="M858.8,403.8 C862.8,403.2 865.8,401.2 869.2,398.6 M900.6,403.8 C896.6,403.2 893.6,401.2 890.2,398.6" fill="none" stroke="#000" stroke-width="1.05"/>
<path d="M858.5,403.8 V376.9 M900.5,403.8 V376.9" fill="none" stroke="#000" stroke-width="1.5"/>
<use href="#ch" transform="translate(879.7,403.8)"/>
<path d="M900.6,403.8 C904.6,403.2 907.6,401.2 911,398.6 M942.4,403.8 C938.4,403.2 935.4,401.2 932,398.6" fill="none" stroke="#000" stroke-width="1.05"/>
<path d="M900.5,403.8 V376.9 M942.5,403.8 V376.9" fill="none" stroke="#000" stroke-width="1.5"/>
<use href="#ch" transform="translate(921.5,403.8)"/>
<path d="M942.4,403.8 C946.4,403.2 949.4,401.2 952.8,398.6 M984.2,403.8 C980.2,403.2 977.2,401.2 973.8,398.6" fill="none" stroke="#000" stroke-width="1.05"/>
<path d="M942.5,403.8 V376.9 M984.5,403.8 V376.9" fill="none" stroke="#000" stroke-width="1.5"/>
<use href="#ch" transform="translate(963.3,403.8)"/>
<path d="M984.2,403.8 C988.2,403.2 991.2,401.2 994.6,398.6 M1026,403.8 C1022,403.2 1019,401.2 1015.6,398.6" fill="none" stroke="#000" stroke-width="1.05"/>
<path d="M984.5,403.8 V376.9 M1026.5,403.8 V376.9" fill="none" stroke="#000" stroke-width="1.5"/>
<use href="#ch" transform="translate(1005.1,403.8)"/>
<circle cx="819.1" cy="379.7" r="1.5" fill="none" stroke="#000" stroke-width="0.85"/>
<circle cx="898.7" cy="379.7" r="1.5" fill="none" stroke="#000" stroke-width="0.85"/>
<circle cx="945" cy="379.7" r="1.5" fill="none" stroke="#000" stroke-width="0.85"/>
<circle cx="986.1" cy="379.7" r="1.5" fill="none" stroke="#000" stroke-width="0.85"/>
<path d="M817.5,376.5 H1026.5" fill="none" stroke="#000" stroke-width="1.8"/>
<path d="M608,467.7 C612,468.3 615,470.3 618.38,472.9 M649.75,467.7 C645.75,468.3 642.75,470.3 639.38,472.9" fill="none" stroke="#000" stroke-width="1.05"/>
<path d="M608.5,467.7 V494.1 M649.5,467.7 V494.1" fill="none" stroke="#000" stroke-width="1.5"/>
<use href="#ch" transform="translate(628.88,467.7) rotate(180)"/>
<path d="M649.75,467.7 C653.75,468.3 656.75,470.3 660.12,472.9 M691.5,467.7 C687.5,468.3 684.5,470.3 681.12,472.9" fill="none" stroke="#000" stroke-width="1.05"/>
<path d="M649.5,467.7 V494.1 M691.5,467.7 V494.1" fill="none" stroke="#000" stroke-width="1.5"/>
<use href="#ch" transform="translate(670.62,467.7) rotate(180)"/>
<path d="M691.5,467.7 C695.5,468.3 698.5,470.3 701.88,472.9 M733.25,467.7 C729.25,468.3 726.25,470.3 722.88,472.9" fill="none" stroke="#000" stroke-width="1.05"/>
<path d="M691.5,467.7 V494.1 M733.5,467.7 V494.1" fill="none" stroke="#000" stroke-width="1.5"/>
<use href="#ch" transform="translate(712.38,467.7) rotate(180)"/>
<path d="M733.25,467.7 C737.25,468.3 740.25,470.3 743.62,472.9 M775,467.7 C771,468.3 768,470.3 764.62,472.9" fill="none" stroke="#000" stroke-width="1.05"/>
<path d="M733.5,467.7 V494.1 M775.5,467.7 V494.1" fill="none" stroke="#000" stroke-width="1.5"/>
<use href="#ch" transform="translate(754.12,467.7) rotate(180)"/>
<circle cx="647.1" cy="491.3" r="1.4" fill="none" stroke="#000" stroke-width="0.85"/>
<circle cx="692.6" cy="491.3" r="1.4" fill="none" stroke="#000" stroke-width="0.85"/>
<circle cx="772.5" cy="491.3" r="1.4" fill="none" stroke="#000" stroke-width="0.85"/>
<path d="M608.5,494.5 H775.5" fill="none" stroke="#000" stroke-width="1.5"/>
<path d="M817,467.6 C821,468.2 824,470.2 827.42,472.8 M858.85,467.6 C854.85,468.2 851.85,470.2 848.42,472.8" fill="none" stroke="#000" stroke-width="1.05"/>
<path d="M817.5,467.6 V494.3 M858.5,467.6 V494.3" fill="none" stroke="#000" stroke-width="1.5"/>
<use href="#ch" transform="translate(837.92,467.6) rotate(180)"/>
<path d="M858.85,467.6 C862.85,468.2 865.85,470.2 869.27,472.8 M900.7,467.6 C896.7,468.2 893.7,470.2 890.27,472.8" fill="none" stroke="#000" stroke-width="1.05"/>
<path d="M858.5,467.6 V494.3 M900.5,467.6 V494.3" fill="none" stroke="#000" stroke-width="1.5"/>
<use href="#ch" transform="translate(879.77,467.6) rotate(180)"/>
<path d="M900.7,467.6 C904.7,468.2 907.7,470.2 911.12,472.8 M942.55,467.6 C938.55,468.2 935.55,470.2 932.12,472.8" fill="none" stroke="#000" stroke-width="1.05"/>
<path d="M900.5,467.6 V494.3 M942.5,467.6 V494.3" fill="none" stroke="#000" stroke-width="1.5"/>
<use href="#ch" transform="translate(921.62,467.6) rotate(180)"/>
<path d="M942.55,467.6 C946.55,468.2 949.55,470.2 952.97,472.8 M984.4,467.6 C980.4,468.2 977.4,470.2 973.97,472.8" fill="none" stroke="#000" stroke-width="1.05"/>
<path d="M942.5,467.6 V494.3 M984.5,467.6 V494.3" fill="none" stroke="#000" stroke-width="1.5"/>
<use href="#ch" transform="translate(963.47,467.6) rotate(180)"/>
<path d="M984.4,467.6 C988.4,468.2 991.4,470.2 994.82,472.8 M1026.25,467.6 C1022.25,468.2 1019.25,470.2 1015.82,472.8" fill="none" stroke="#000" stroke-width="1.05"/>
<path d="M984.5,467.6 V494.3 M1026.5,467.6 V494.3" fill="none" stroke="#000" stroke-width="1.5"/>
<use href="#ch" transform="translate(1005.32,467.6) rotate(180)"/>
<path d="M1026.25,467.6 C1030.25,468.2 1033.25,470.2 1036.67,472.8 M1068.1,467.6 C1064.1,468.2 1061.1,470.2 1057.67,472.8" fill="none" stroke="#000" stroke-width="1.05"/>
<path d="M1026.5,467.6 V494.3 M1068.5,467.6 V494.3" fill="none" stroke="#000" stroke-width="1.5"/>
<use href="#ch" transform="translate(1047.17,467.6) rotate(180)"/>
<circle cx="819.1" cy="491.5" r="1.5" fill="none" stroke="#000" stroke-width="0.85"/>
<circle cx="898.7" cy="491.5" r="1.5" fill="none" stroke="#000" stroke-width="0.85"/>
<circle cx="945" cy="491.5" r="1.5" fill="none" stroke="#000" stroke-width="0.85"/>
<circle cx="986.1" cy="491.5" r="1.5" fill="none" stroke="#000" stroke-width="0.85"/>
<circle cx="1027.5" cy="491.5" r="1.5" fill="none" stroke="#000" stroke-width="0.85"/>
<path d="M817.5,494.5 H1068.5" fill="none" stroke="#000" stroke-width="1.8"/>
<path d="M817,521.6 C821,521 824,519 827.42,516.4 M858.85,521.6 C854.85,521 851.85,519 848.42,516.4" fill="none" stroke="#000" stroke-width="1.05"/>
<path d="M817.5,521.6 V494.3 M858.5,521.6 V494.3" fill="none" stroke="#000" stroke-width="1.5"/>
<use href="#ch" transform="translate(837.92,521.6)"/>
<path d="M858.85,521.6 C862.85,521 865.85,519 869.27,516.4 M900.7,521.6 C896.7,521 893.7,519 890.27,516.4" fill="none" stroke="#000" stroke-width="1.05"/>
<path d="M858.5,521.6 V494.3 M900.5,521.6 V494.3" fill="none" stroke="#000" stroke-width="1.5"/>
<use href="#ch" transform="translate(879.77,521.6)"/>
<path d="M900.7,521.6 C904.7,521 907.7,519 911.12,516.4 M942.55,521.6 C938.55,521 935.55,519 932.12,516.4" fill="none" stroke="#000" stroke-width="1.05"/>
<path d="M900.5,521.6 V494.3 M942.5,521.6 V494.3" fill="none" stroke="#000" stroke-width="1.5"/>
<use href="#ch" transform="translate(921.62,521.6)"/>
<path d="M942.55,521.6 C946.55,521 949.55,519 952.97,516.4 M984.4,521.6 C980.4,521 977.4,519 973.97,516.4" fill="none" stroke="#000" stroke-width="1.05"/>
<path d="M942.5,521.6 V494.3 M984.5,521.6 V494.3" fill="none" stroke="#000" stroke-width="1.5"/>
<use href="#ch" transform="translate(963.47,521.6)"/>
<path d="M984.4,521.6 C988.4,521 991.4,519 994.82,516.4 M1026.25,521.6 C1022.25,521 1019.25,519 1015.82,516.4" fill="none" stroke="#000" stroke-width="1.05"/>
<path d="M984.5,521.6 V494.3 M1026.5,521.6 V494.3" fill="none" stroke="#000" stroke-width="1.5"/>
<use href="#ch" transform="translate(1005.32,521.6)"/>
<path d="M1026.25,521.6 C1030.25,521 1033.25,519 1036.67,516.4 M1068.1,521.6 C1064.1,521 1061.1,519 1057.67,516.4" fill="none" stroke="#000" stroke-width="1.05"/>
<path d="M1026.5,521.6 V494.3 M1068.5,521.6 V494.3" fill="none" stroke="#000" stroke-width="1.5"/>
<use href="#ch" transform="translate(1047.17,521.6)"/>
<circle cx="819.1" cy="497.1" r="1.5" fill="none" stroke="#000" stroke-width="0.85"/>
<circle cx="898.7" cy="497.1" r="1.5" fill="none" stroke="#000" stroke-width="0.85"/>
<circle cx="945" cy="497.1" r="1.5" fill="none" stroke="#000" stroke-width="0.85"/>
<circle cx="986.1" cy="497.1" r="1.5" fill="none" stroke="#000" stroke-width="0.85"/>
<circle cx="1027.5" cy="497.1" r="1.5" fill="none" stroke="#000" stroke-width="0.85"/>
<path d="M817.5,494.5 H1068.5" fill="none" stroke="#000" stroke-width="1.8"/>
<path d="M795.6,606.2 C799.6,606.8 802.6,608.8 805.95,611.4 M837.3,606.2 C833.3,606.8 830.3,608.8 826.95,611.4" fill="none" stroke="#000" stroke-width="1.05"/>
<path d="M795.5,606.2 V632.9 M837.5,606.2 V632.9" fill="none" stroke="#000" stroke-width="1.5"/>
<use href="#ch" transform="translate(816.45,606.2) rotate(180)"/>
<path d="M837.3,606.2 C841.3,606.8 844.3,608.8 847.65,611.4 M879,606.2 C875,606.8 872,608.8 868.65,611.4" fill="none" stroke="#000" stroke-width="1.05"/>
<path d="M837.5,606.2 V632.9 M879.5,606.2 V632.9" fill="none" stroke="#000" stroke-width="1.5"/>
<use href="#ch" transform="translate(858.15,606.2) rotate(180)"/>
<path d="M879,606.2 C883,606.8 886,608.8 889.35,611.4 M920.7,606.2 C916.7,606.8 913.7,608.8 910.35,611.4" fill="none" stroke="#000" stroke-width="1.05"/>
<path d="M879.5,606.2 V632.9 M920.5,606.2 V632.9" fill="none" stroke="#000" stroke-width="1.5"/>
<use href="#ch" transform="translate(899.85,606.2) rotate(180)"/>
<path d="M920.7,606.2 C924.7,606.8 927.7,608.8 931.05,611.4 M962.4,606.2 C958.4,606.8 955.4,608.8 952.05,611.4" fill="none" stroke="#000" stroke-width="1.05"/>
<path d="M920.5,606.2 V632.9 M962.5,606.2 V632.9" fill="none" stroke="#000" stroke-width="1.5"/>
<use href="#ch" transform="translate(941.55,606.2) rotate(180)"/>
<path d="M962.4,606.2 C966.4,606.8 969.4,608.8 972.75,611.4 M1004.1,606.2 C1000.1,606.8 997.1,608.8 993.75,611.4" fill="none" stroke="#000" stroke-width="1.05"/>
<path d="M962.5,606.2 V632.9 M1004.5,606.2 V632.9" fill="none" stroke="#000" stroke-width="1.5"/>
<use href="#ch" transform="translate(983.25,606.2) rotate(180)"/>
<path d="M1004.1,606.2 C1008.1,606.8 1011.1,608.8 1014.45,611.4 M1045.8,606.2 C1041.8,606.8 1038.8,608.8 1035.45,611.4" fill="none" stroke="#000" stroke-width="1.05"/>
<path d="M1004.5,606.2 V632.9 M1045.5,606.2 V632.9" fill="none" stroke="#000" stroke-width="1.5"/>
<use href="#ch" transform="translate(1024.95,606.2) rotate(180)"/>
<path d="M1045.8,606.2 C1049.8,606.8 1052.8,608.8 1056.15,611.4 M1087.5,606.2 C1083.5,606.8 1080.5,608.8 1077.15,611.4" fill="none" stroke="#000" stroke-width="1.05"/>
<path d="M1045.5,606.2 V632.9 M1087.5,606.2 V632.9" fill="none" stroke="#000" stroke-width="1.5"/>
<use href="#ch" transform="translate(1066.65,606.2) rotate(180)"/>
<circle cx="839.7" cy="630.1" r="1.4" fill="none" stroke="#000" stroke-width="0.85"/>
<circle cx="919" cy="630.1" r="1.4" fill="none" stroke="#000" stroke-width="0.85"/>
<circle cx="963.8" cy="630.1" r="1.4" fill="none" stroke="#000" stroke-width="0.85"/>
<circle cx="1006" cy="630.1" r="1.4" fill="none" stroke="#000" stroke-width="0.85"/>
<circle cx="1048" cy="630.1" r="1.4" fill="none" stroke="#000" stroke-width="0.85"/>
<path d="M795.5,632.5 H1087.5" fill="none" stroke="#000" stroke-width="1.5"/>
<use href="#rc" transform="translate(152.5,209.7) rotate(-45)"/>
<use href="#rc" transform="translate(195.1,209.9) rotate(45)"/>
<use href="#rc" transform="translate(152.3,252.3) rotate(-135)"/>
<use href="#rc" transform="translate(194.9,252.5) rotate(135)"/>
<circle cx="173.7" cy="231.1" r="21.4" fill="#fff" stroke="#000" stroke-width="1"/>
<rect x="275.5" y="254.5" width="65" height="30" fill="none" stroke="#000" stroke-width="1.1"/>
<rect x="320.5" y="213.5" width="20" height="39" fill="none" stroke="#000" stroke-width="0.9"/>
<use href="#ch" transform="translate(300.5,249.3) rotate(180)"/>
<use href="#lc" transform="translate(290.3,311) rotate(-162)"/>
<use href="#lc" transform="translate(325.3,311) rotate(162)"/>
<path d="M264.8,381.8 H238.4 V461.1 H264.8" fill="none" stroke="#000" stroke-width="1.5"/>
<path d="M264.8,381.8 L260.5,420 L264.8,461.1" fill="none" stroke="#000" stroke-width="0.8"/>
<use href="#ch" transform="translate(266.5,420.2) rotate(-90) scale(0.95)"/>
<line x1="217.5" y1="381.8" x2="217.5" y2="461.1" stroke="#000" stroke-width="1.1"/>
<line x1="212" y1="381.5" x2="238.4" y2="381.5" stroke="#000" stroke-width="1"/>
<line x1="212" y1="461.5" x2="238.4" y2="461.5" stroke="#000" stroke-width="1"/>
<line x1="212.9" y1="377.3" x2="221.9" y2="386.3" stroke="#000" stroke-width="1.1"/>
<line x1="212.9" y1="456.6" x2="221.9" y2="465.6" stroke="#000" stroke-width="1.1"/>
<rect x="207" y="414" width="21" height="14" fill="#fff"/>
<text x="206.7" y="426.3" font-size="12.5" text-anchor="start" fill="#000" textLength="21.9" lengthAdjust="spacingAndGlyphs">1,84</text>
<text x="164.9" y="416" font-size="13.5" text-anchor="start" fill="#000" textLength="33.5" lengthAdjust="spacingAndGlyphs">Front</text>
<text x="165.4" y="433.3" font-size="13.5" text-anchor="start" fill="#000" textLength="31.1" lengthAdjust="spacingAndGlyphs">desk</text>
<rect x="325.5" y="415.5" width="22" height="13" fill="none" stroke="#8f8f8f" stroke-width="1.2"/>
<circle cx="437.2" cy="414" r="21.9" fill="none" stroke="#000" stroke-width="1"/>
<path d="M445.6,413.2 L444.0,414.6 L445.2,416.5 L443.1,417.2 L443.9,419.6 L440.8,418.6 L440.8,421.0 L439.2,421.0 L438.0,422.5 L436.4,420.5 L434.6,423.6 L433.8,420.4 L431.3,422.2 L431.5,419.1 L428.9,419.6 L430.3,416.8 L427.2,416.6 L428.3,414.7 L426.8,413.2 L428.5,411.8 L427.1,409.8 L430.4,409.7 L428.7,406.6 L431.4,407.1 L431.8,405.0 L434.1,406.6 L434.6,403.0 L436.4,405.5 L438.1,403.2 L439.2,405.3 L441.4,404.4 L441.7,406.7 L443.6,407.0 L443.4,409.1 L445.3,409.9 L444.6,411.7 Z" fill="#000"/>
<circle cx="439.5" cy="422.6" r="1.7" fill="#fff" stroke="#000" stroke-width="0.9"/>
<circle cx="441.8" cy="425.2" r="1.5" fill="#fff" stroke="#000" stroke-width="0.9"/>
<circle cx="445.2" cy="421.4" r="1.7" fill="#fff" stroke="#000" stroke-width="0.9"/>
<circle cx="444" cy="417.8" r="1.3" fill="#fff" stroke="#000" stroke-width="0.9"/>
<circle cx="437" cy="424.6" r="1.2" fill="#fff" stroke="#000" stroke-width="0.9"/>
<path d="M436.5,406 l1.5,4 M438.5,405.5 l0.5,3" stroke="#777" stroke-width="0.7"/>
<path d="M170.4,551.5 Q222.6,542.5 274.9,551.5 V595 Q222.6,604 170.4,595 Z" fill="#fff" stroke="#000" stroke-width="1"/>
<rect x="196.5" y="570.5" width="53" height="6" fill="none" stroke="#000" stroke-width="0.9"/>
<circle cx="202" cy="573.5" r="1.6" fill="none" stroke="#000" stroke-width="0.7"/>
<circle cx="243.5" cy="573.5" r="1.6" fill="none" stroke="#000" stroke-width="0.7"/>
<use href="#cc" transform="translate(190.9,540)"/>
<use href="#cc" transform="translate(190.9,606.8) rotate(180)"/>
<use href="#cc" transform="translate(223.2,540)"/>
<use href="#cc" transform="translate(223.2,606.8) rotate(180)"/>
<use href="#cc" transform="translate(254.5,540)"/>
<use href="#cc" transform="translate(254.5,606.8) rotate(180)"/>
<use href="#cc" transform="translate(161.8,573.1) rotate(-90) scale(1,0.85)"/>
<use href="#cc" transform="translate(283.4,573.1) rotate(90) scale(1,0.85)"/>
<line x1="170.4" y1="516.5" x2="274.9" y2="516.5" stroke="#000" stroke-width="1.1"/>
<line x1="170.5" y1="512" x2="170.5" y2="549" stroke="#000" stroke-width="0.9"/>
<line x1="274.5" y1="512" x2="274.5" y2="549" stroke="#000" stroke-width="0.9"/>
<line x1="165.9" y1="521.3" x2="174.9" y2="512.3" stroke="#000" stroke-width="1.1"/>
<line x1="270.4" y1="521.3" x2="279.4" y2="512.3" stroke="#000" stroke-width="1.1"/>
<rect x="212" y="509" width="21" height="14" fill="#fff"/>
<text x="213.9" y="521.3" font-size="11.5" text-anchor="start" fill="#000" textLength="17.2" lengthAdjust="spacingAndGlyphs">2,4</text>
<line x1="343.5" y1="511.6" x2="343.5" y2="635.3" stroke="#6a6a6a" stroke-width="1.2"/>
<line x1="347.5" y1="511.6" x2="347.5" y2="635.3" stroke="#555" stroke-width="1.2"/>
<line x1="347.1" y1="505.5" x2="451" y2="505.5" stroke="#6a6a6a" stroke-width="1.1"/>
<line x1="347.1" y1="522.5" x2="451" y2="522.5" stroke="#000" stroke-width="1.1"/>
<line x1="451" y1="502.5" x2="536.6" y2="502.5" stroke="#6a6a6a" stroke-width="1.1"/>
<line x1="451" y1="507.5" x2="536.6" y2="507.5" stroke="#000" stroke-width="1.1"/>
<line x1="451.5" y1="502.8" x2="451.5" y2="539" stroke="#6a6a6a" stroke-width="1.1"/>
<line x1="347.1" y1="539.5" x2="451" y2="539.5" stroke="#6a6a6a" stroke-width="1.1"/>
<line x1="545.5" y1="511.2" x2="545.5" y2="536" stroke="#6a6a6a" stroke-width="1.1"/>
<line x1="549.5" y1="511.2" x2="549.5" y2="539" stroke="#000" stroke-width="1.1"/>
<line x1="545" y1="536.5" x2="663.7" y2="536.5" stroke="#6a6a6a" stroke-width="1.1"/>
<line x1="549.6" y1="539.5" x2="663.7" y2="539.5" stroke="#000" stroke-width="1.1"/>
<line x1="663.5" y1="536" x2="663.5" y2="635.3" stroke="#000" stroke-width="1.2"/>
<line x1="451.5" y1="539" x2="451.5" y2="635.3" stroke="#707070" stroke-width="1.1"/>
<line x1="466.5" y1="539" x2="466.5" y2="635.3" stroke="#000" stroke-width="1.1"/>
<line x1="481.5" y1="539" x2="481.5" y2="635.3" stroke="#000" stroke-width="1.1"/>
<line x1="496.5" y1="539" x2="496.5" y2="635.3" stroke="#707070" stroke-width="1.1"/>
<line x1="511.5" y1="539" x2="511.5" y2="635.3" stroke="#707070" stroke-width="1.1"/>
<line x1="526.5" y1="539" x2="526.5" y2="635.3" stroke="#707070" stroke-width="1.1"/>
<line x1="542.5" y1="539" x2="542.5" y2="635.3" stroke="#707070" stroke-width="1.1"/>
<line x1="557.5" y1="539" x2="557.5" y2="635.3" stroke="#707070" stroke-width="1.1"/>
<line x1="572.5" y1="539" x2="572.5" y2="635.3" stroke="#000" stroke-width="1.1"/>
<line x1="587.5" y1="539" x2="587.5" y2="635.3" stroke="#707070" stroke-width="1.1"/>
<line x1="602.5" y1="539" x2="602.5" y2="635.3" stroke="#707070" stroke-width="1.1"/>
<line x1="618.5" y1="539" x2="618.5" y2="635.3" stroke="#707070" stroke-width="1.1"/>
<line x1="633.5" y1="539" x2="633.5" y2="635.3" stroke="#707070" stroke-width="1.1"/>
<line x1="648.5" y1="539" x2="648.5" y2="635.3" stroke="#707070" stroke-width="1.1"/>
<line x1="451" y1="539" x2="347.1" y2="584.6" stroke="#000" stroke-width="0.9"/>
<line x1="451" y1="539" x2="347.1" y2="635.3" stroke="#000" stroke-width="0.9"/>
<line x1="451" y1="539" x2="399.3" y2="635.3" stroke="#000" stroke-width="0.9"/>
<line x1="398.5" y1="517" x2="398.5" y2="603.7" stroke="#000" stroke-width="1"/>
<line x1="383.3" y1="587.5" x2="600" y2="587.5" stroke="#000" stroke-width="1.1"/>
<path d="M598,583.8 L617.3,587.7 L598,591.6 Z" fill="#000"/>
<path d="M382.5,587.7 L398.5,587.7 L398.5,603.7 Z" fill="none" stroke="#000" stroke-width="1"/>
<path d="M699,635.3 A38.8,38.8 0 0 1 769.5,635.3" fill="none" stroke="#000" stroke-width="1.1"/>
<path d="M704.8,635.3 A33.6,33.6 0 0 1 763.8,635.3" fill="none" stroke="#000" stroke-width="1.1"/>
<line x1="704.8" y1="632.6" x2="764.4" y2="632.6" stroke="#999" stroke-width="1.8"/>
<path d="M724.2,632.6 A10.25,10.25 0 0 1 744.7,632.6" fill="none" stroke="#000" stroke-width="1.1"/>
<path d="M725.9,632.6 A8.6,8.6 0 0 1 743.1,632.6" fill="none" stroke="#000" stroke-width="1"/>
<line x1="784.5" y1="279" x2="784.5" y2="314" stroke="#000" stroke-width="1.3"/>
<line x1="817.5" y1="279" x2="817.5" y2="314" stroke="#000" stroke-width="1.3"/>
<line x1="780.3" y1="314.3" x2="788.3" y2="306.3" stroke="#000" stroke-width="1.4"/>
<line x1="813.6" y1="314.3" x2="821.6" y2="306.3" stroke="#000" stroke-width="1.4"/>
<text x="789.4" y="313.6" font-size="11.7" text-anchor="start" fill="#000" textLength="22.9" lengthAdjust="spacingAndGlyphs">0.78</text>
<line x1="1058" y1="295.5" x2="1076" y2="295.5" stroke="#000" stroke-width="0.9"/>
<line x1="1014.5" y1="334.5" x2="1076" y2="334.5" stroke="#000" stroke-width="0.9"/>
<line x1="1073.5" y1="292" x2="1073.5" y2="338" stroke="#000" stroke-width="1"/>
<line x1="1070.4" y1="292.3" x2="1077.4" y2="299.3" stroke="#000" stroke-width="1.1"/>
<line x1="1070.4" y1="331.4" x2="1077.4" y2="338.4" stroke="#000" stroke-width="1.1"/>
<rect x="1060" y="308" width="28" height="13" fill="#fff"/>
<text x="1062.3" y="319.8" font-size="12.5" text-anchor="start" fill="#000" textLength="23.1" lengthAdjust="spacingAndGlyphs">0.85</text>
<text x="155.6" y="685.7" font-size="30" text-anchor="start" fill="#000" textLength="31.5" lengthAdjust="spacingAndGlyphs">87</text>
<text x="198" y="685.5" font-size="17.4" text-anchor="start" fill="#000" textLength="101.8" lengthAdjust="spacingAndGlyphs">Work Station</text>
<text x="155.6" y="713.3" font-size="17.6" text-anchor="start" fill="#000" textLength="48.2" lengthAdjust="spacingAndGlyphs">95 cm</text>
<defs><filter id="blur" x="-30%" y="-30%" width="160%" height="160%"><feGaussianBlur stdDeviation="5"/></filter></defs>
<ellipse cx="339.5" cy="809.8" rx="54.3" ry="47" fill="#000" opacity="0.38" filter="url(#blur)"/>
<ellipse cx="264" cy="805.8" rx="57.5" ry="48.3" fill="#000" opacity="0.38" filter="url(#blur)"/>
<ellipse cx="189.5" cy="806.5" rx="67.3" ry="57.75" fill="#000" opacity="0.38" filter="url(#blur)"/>
<ellipse cx="333.5" cy="800.8" rx="52.3" ry="45" fill="#fff"/>
<ellipse cx="258" cy="796.8" rx="55.5" ry="46.3" fill="#fff"/>
<ellipse cx="183.5" cy="797.5" rx="65.3" ry="55.75" fill="#fff"/>
<defs><linearGradient id="dsh" x1="0" x2="1" y1="0" y2="0"><stop offset="0" stop-color="#808080" stop-opacity="0.75"/><stop offset="0.35" stop-color="#a0a0a0" stop-opacity="0.45"/><stop offset="1" stop-color="#fff" stop-opacity="0"/></linearGradient></defs>
<rect x="331.8" y="761" width="20" height="80" fill="url(#dsh)"/>
<rect x="257.7" y="756" width="20" height="82" fill="url(#dsh)"/>
<rect x="183.4" y="747" width="20" height="100" fill="url(#dsh)"/>
<path d="M330.3,753.8 A54.3,47 0 0 0 330.3,847.8 Z" fill="#e04846"/>
<path d="M330.3,754.8 A53.3,46 0 0 0 330.3,846.8" fill="none" stroke="#a83030" stroke-width="2"/>
<path d="M330.3,756.8 A51.3,44 0 0 0 281.43,800.8" fill="none" stroke="#f39a8a" stroke-width="1.2" opacity="0.8"/>
<rect x="328.7" y="758" width="3.2" height="85.6" fill="#a83030"/>
<path d="M330.3,757.3 A50.8,43.5 0 0 1 378.76,781.05" fill="none" stroke="#e04846" stroke-width="7"/>
<path d="M382.08,813.52 A50.8,43.5 0 0 1 330.3,844.3" fill="none" stroke="#e04846" stroke-width="7"/>
<path d="M330.3,760.8 A47.3,40 0 0 1 375.64,782.64" fill="none" stroke="#a83030" stroke-width="2"/>
<path d="M378.73,812.49 A47.3,40 0 0 1 330.3,840.8" fill="none" stroke="#a83030" stroke-width="2"/>
<path d="M385.43,814.54 A54.3,47 0 0 1 314.01,845.45" fill="none" stroke="#a83030" stroke-width="1.6"/>
<line x1="375.64" y1="782.64" x2="381.88" y2="779.46" stroke="#a83030" stroke-width="2"/>
<line x1="378.73" y1="812.49" x2="385.43" y2="814.54" stroke="#f39a8a" stroke-width="2"/>
<path d="M256.2,748.5 A57.5,48.3 0 0 0 256.2,845.1 Z" fill="#d3e2ef"/>
<path d="M256.2,749.5 A56.5,47.3 0 0 0 256.2,844.1" fill="none" stroke="#95a8b9" stroke-width="2"/>
<path d="M256.2,751.5 A54.5,45.3 0 0 0 204.45,796.8" fill="none" stroke="#f4f8fc" stroke-width="1.2" opacity="0.8"/>
<rect x="254.6" y="752.7" width="3.2" height="88.2" fill="#95a8b9"/>
<path d="M256.2,752 A54,44.8 0 0 1 304.77,774.4" fill="none" stroke="#d3e2ef" stroke-width="7"/>
<path d="M308.74,812.12 A54,44.8 0 0 1 256.2,841.6" fill="none" stroke="#d3e2ef" stroke-width="7"/>
<path d="M256.2,755.5 A50.5,41.3 0 0 1 301.73,776.15" fill="none" stroke="#95a8b9" stroke-width="2"/>
<path d="M305.45,810.93 A50.5,41.3 0 0 1 256.2,838.1" fill="none" stroke="#95a8b9" stroke-width="2"/>
<path d="M312.03,813.32 A57.5,48.3 0 0 1 238.95,842.68" fill="none" stroke="#95a8b9" stroke-width="1.6"/>
<line x1="301.73" y1="776.15" x2="307.8" y2="772.65" stroke="#95a8b9" stroke-width="2"/>
<line x1="305.45" y1="810.93" x2="312.03" y2="813.32" stroke="#f4f8fc" stroke-width="2"/>
<path d="M181.8,739.75 A67.3,57.75 0 0 0 181.8,855.25 Z" fill="#5d6bb5"/>
<path d="M181.8,740.75 A66.3,56.75 0 0 0 181.8,854.25" fill="none" stroke="#3c4590" stroke-width="2"/>
<path d="M181.8,742.75 A64.3,54.75 0 0 0 121.23,797.5" fill="none" stroke="#9aa4dc" stroke-width="1.2" opacity="0.8"/>
<rect x="180.2" y="744.85" width="3.2" height="105.3" fill="#3c4590"/>
<path d="M181.8,744 A63.05,53.5 0 0 1 239.68,773.21" fill="none" stroke="#5d6bb5" stroke-width="8.5"/>
<path d="M243.46,814.03 A63.05,53.5 0 0 1 181.8,851" fill="none" stroke="#5d6bb5" stroke-width="8.5"/>
<path d="M181.8,748.25 A58.8,49.25 0 0 1 235.89,775.14" fill="none" stroke="#3c4590" stroke-width="2"/>
<path d="M239.42,812.72 A58.8,49.25 0 0 1 181.8,846.75" fill="none" stroke="#3c4590" stroke-width="2"/>
<path d="M247.51,815.35 A67.3,57.75 0 0 1 161.61,852.36" fill="none" stroke="#3c4590" stroke-width="1.6"/>
<line x1="235.89" y1="775.14" x2="243.46" y2="771.28" stroke="#3c4590" stroke-width="2"/>
<line x1="239.42" y1="812.72" x2="247.51" y2="815.35" stroke="#9aa4dc" stroke-width="2"/>
<rect x="609.5" y="712.5" width="4" height="111" fill="none" stroke="#555" stroke-width="1"/>
<rect x="777.5" y="712.5" width="3" height="111" fill="none" stroke="#555" stroke-width="1"/>
<line x1="611.5" y1="712.5" x2="779" y2="712.5" stroke="#000" stroke-width="1.2"/>
<line x1="613.3" y1="715.5" x2="777.4" y2="715.5" stroke="#666" stroke-width="1"/>
<circle cx="611.5" cy="714" r="1.6" fill="#fff" stroke="#000" stroke-width="0.7"/>
<circle cx="779.2" cy="714" r="1.6" fill="#fff" stroke="#000" stroke-width="0.7"/>
<circle cx="766.6" cy="726.7" r="6.3" fill="none" stroke="#000" stroke-width="1"/>
<path d="M613.3,819.4 H627.2 C645,808 670,798.5 694.3,798.5 C720,798.5 745,806 763.8,819.4 H777.4" fill="none" stroke="#000" stroke-width="1"/>
<line x1="611.5" y1="690.5" x2="779" y2="690.5" stroke="#000" stroke-width="1"/>
<line x1="611.5" y1="685.5" x2="611.5" y2="712.8" stroke="#000" stroke-width="1"/>
<line x1="779.5" y1="685.5" x2="779.5" y2="712.8" stroke="#000" stroke-width="1"/>
<line x1="607" y1="694.9" x2="616" y2="685.9" stroke="#000" stroke-width="1.1"/>
<line x1="774.5" y1="694.9" x2="783.5" y2="685.9" stroke="#000" stroke-width="1.1"/>
<rect x="682" y="683" width="28" height="14" fill="#fff"/>
<text x="695.5" y="695" font-size="12" text-anchor="middle" fill="#000">0.95</text>
<line x1="589.5" y1="714" x2="589.5" y2="819.4" stroke="#000" stroke-width="1"/>
<line x1="584" y1="714.5" x2="610" y2="714.5" stroke="#000" stroke-width="1"/>
<line x1="584" y1="819.5" x2="610" y2="819.5" stroke="#000" stroke-width="1"/>
<line x1="584.5" y1="709.5" x2="593.5" y2="718.5" stroke="#000" stroke-width="1.1"/>
<line x1="584.5" y1="814.9" x2="593.5" y2="823.9" stroke="#000" stroke-width="1.1"/>
<rect x="580" y="760" width="18" height="14" fill="#fff"/>
<text x="589.5" y="772" font-size="12" text-anchor="middle" fill="#000">0,6</text>
<line x1="692" y1="819.5" x2="764" y2="819.5" stroke="#000" stroke-width="1"/>
<line x1="690.3" y1="794.5" x2="698.3" y2="802.5" stroke="#000" stroke-width="1.1"/>
<line x1="690.3" y1="815.4" x2="698.3" y2="823.4" stroke="#000" stroke-width="1.1"/>
<text x="695.5" y="813.5" font-size="12" text-anchor="middle" fill="#000">0,12</text>
<text x="708.2" y="855.3" font-size="13.8" text-anchor="start" fill="#000" textLength="111.6" lengthAdjust="spacingAndGlyphs">Desk Dimentions</text>
<path d="M946.7,673 L1021.4,715.4" fill="none" stroke="#444" stroke-width="4.2" stroke-linejoin="miter" stroke-linecap="square"/>
<path d="M946.7,673 L1021.4,715.4" fill="none" stroke="#c6c6c6" stroke-width="2.2" stroke-linejoin="miter" stroke-linecap="square"/>
<path d="M946.7,673 L1021.4,715.4" fill="none" stroke="#7a7a7a" stroke-width="0.5" stroke-linejoin="miter"/>
<path d="M948.3,695.4 L1019,736" fill="none" stroke="#444" stroke-width="4.2" stroke-linejoin="miter" stroke-linecap="square"/>
<path d="M948.3,695.4 L1019,736" fill="none" stroke="#c6c6c6" stroke-width="2.2" stroke-linejoin="miter" stroke-linecap="square"/>
<path d="M948.3,695.4 L1019,736" fill="none" stroke="#7a7a7a" stroke-width="0.5" stroke-linejoin="miter"/>
<path d="M900.7,741.6 L946.7,715.9 L1021.4,758.3" fill="none" stroke="#000" stroke-width="0.9"/>
<path d="M898.4,806.1 L898.4,700.5 L946.7,673 L946.7,780.2 L898.4,806.1" fill="none" stroke="#444" stroke-width="4.2" stroke-linejoin="miter" stroke-linecap="square"/>
<path d="M898.4,806.1 L898.4,700.5 L946.7,673 L946.7,780.2 L898.4,806.1" fill="none" stroke="#c6c6c6" stroke-width="2.2" stroke-linejoin="miter" stroke-linecap="square"/>
<path d="M898.4,806.1 L898.4,700.5 L946.7,673 L946.7,780.2 L898.4,806.1" fill="none" stroke="#7a7a7a" stroke-width="0.5" stroke-linejoin="miter"/>
<path d="M898.4,720.7 L946.7,695.4" fill="none" stroke="#444" stroke-width="4.2" stroke-linejoin="miter" stroke-linecap="square"/>
<path d="M898.4,720.7 L946.7,695.4" fill="none" stroke="#c6c6c6" stroke-width="2.2" stroke-linejoin="miter" stroke-linecap="square"/>
<path d="M898.4,720.7 L946.7,695.4" fill="none" stroke="#7a7a7a" stroke-width="0.5" stroke-linejoin="miter"/>
<path d="M946.7,760 L946.7,780.2" fill="none" stroke="#444" stroke-width="2.6" stroke-linejoin="miter" stroke-linecap="square"/>
<path d="M946.7,760 L946.7,780.2" fill="none" stroke="#c6c6c6" stroke-width="0.6000000000000001" stroke-linejoin="miter" stroke-linecap="square"/>
<path d="M946.7,760 L946.7,780.2" fill="none" stroke="#7a7a7a" stroke-width="0.5" stroke-linejoin="miter"/>
<path d="M946.7,780.2 L971.9,793.2" fill="none" stroke="#444" stroke-width="2.6" stroke-linejoin="miter" stroke-linecap="square"/>
<path d="M946.7,780.2 L971.9,793.2" fill="none" stroke="#c6c6c6" stroke-width="0.6000000000000001" stroke-linejoin="miter" stroke-linecap="square"/>
<path d="M946.7,780.2 L971.9,793.2" fill="none" stroke="#7a7a7a" stroke-width="0.5" stroke-linejoin="miter"/>
<path d="M900.7,742.5 C912,748 930,750 943,756 C955,762 962,772 971,783" fill="none" stroke="#999" stroke-width="3.2"/>
<path d="M900.7,741.6 C912,747 930,749 943,755 C955,761 962,771 971,782" fill="none" stroke="#111" stroke-width="1.3"/>
<path d="M973.1,763.7 L1021.4,736.6 L1021.4,822.6 L973.1,848.5 Z" fill="#fff"/>
<path d="M973.1,742.5 L1021.4,715.4 L1021.4,822.6 L973.1,848.5 L973.1,742.5" fill="none" stroke="#444" stroke-width="4.2" stroke-linejoin="miter" stroke-linecap="square"/>
<path d="M973.1,742.5 L1021.4,715.4 L1021.4,822.6 L973.1,848.5 L973.1,742.5" fill="none" stroke="#c6c6c6" stroke-width="2.2" stroke-linejoin="miter" stroke-linecap="square"/>
<path d="M973.1,742.5 L1021.4,715.4 L1021.4,822.6 L973.1,848.5 L973.1,742.5" fill="none" stroke="#7a7a7a" stroke-width="0.5" stroke-linejoin="miter"/>
<path d="M973.1,763.7 L1021.4,736.6" fill="none" stroke="#444" stroke-width="4.2" stroke-linejoin="miter" stroke-linecap="square"/>
<path d="M973.1,763.7 L1021.4,736.6" fill="none" stroke="#c6c6c6" stroke-width="2.2" stroke-linejoin="miter" stroke-linecap="square"/>
<path d="M973.1,763.7 L1021.4,736.6" fill="none" stroke="#7a7a7a" stroke-width="0.5" stroke-linejoin="miter"/>
<path d="M974.5,784.9 L1019.5,760.2" fill="none" stroke="#000" stroke-width="0.9"/>
<ellipse cx="1014.8" cy="769.6" rx="1.2" ry="2" transform="rotate(25 1014.8 769.6)" fill="none" stroke="#000" stroke-width="0.9"/>
<rect x="897.5" y="806" width="3" height="2" fill="#222"/>
<rect x="942.5" y="780.9" width="3" height="2" fill="#222"/>
<rect x="972.5" y="848.5" width="3" height="2" fill="#222"/>
<rect x="1015.5" y="824.5" width="3" height="2" fill="#222"/>
<line x1="1033.5" y1="721.7" x2="1033.5" y2="832" stroke="#000" stroke-width="1.1"/>
<line x1="1021.4" y1="715.4" x2="1037.9" y2="725.5" stroke="#000" stroke-width="0.9"/>
<line x1="1021.4" y1="822.6" x2="1037.9" y2="833.2" stroke="#000" stroke-width="0.9"/>
<line x1="1028.7" y1="719" x2="1037.7" y2="728" stroke="#000" stroke-width="1.3"/>
<line x1="1028.7" y1="826" x2="1037.7" y2="835" stroke="#000" stroke-width="1.3"/>
<rect x="1026" y="768" width="18" height="21" fill="#fff" transform="rotate(15 1035 779)"/>
<text x="1035.6" y="782.5" font-size="13.5" text-anchor="middle" fill="#000" stroke="#000" stroke-width="0.3" transform="rotate(20 1035.6 778)">1.20</text>
<text x="992" y="864.6" font-size="14" text-anchor="start" fill="#000" textLength="100" lengthAdjust="spacingAndGlyphs">Isometric View</text>
</svg>
</body></html>
